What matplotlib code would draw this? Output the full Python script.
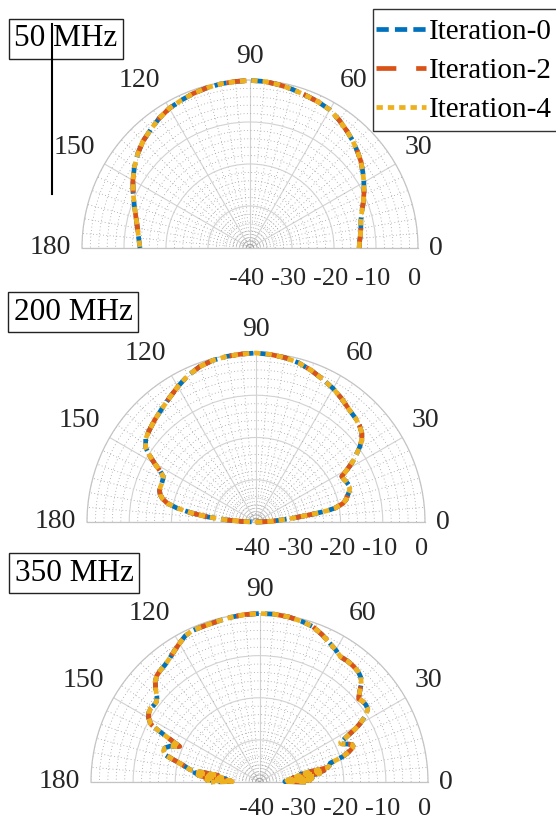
import numpy as np
import matplotlib
matplotlib.use('Agg')
import matplotlib.pyplot as plt
from matplotlib.ticker import MultipleLocator, FixedLocator
from matplotlib.lines import Line2D
from matplotlib.patches import Rectangle

plt.rcParams['font.family'] = ['Liberation Serif', 'DejaVu Serif']

W, H = 556, 821

# ---------------- data ----------------
freq_labels = ['50 MHz', '200 MHz', '350 MHz']
series_labels = ['Iteration-0', 'Iteration-2', 'Iteration-4']
series_colors = ['#0072BD', '#D95319', '#EDB120']
theta_ticks = [0, 30, 60, 90, 120, 150, 180]
r_ticks = [-40, -30, -20, -10, 0]

theta_50 = [0, 3, 6, 10, 14, 18, 22, 26, 30, 34, 38, 42, 46, 50, 55, 60, 65, 70, 75, 80,
            85, 90, 95, 100, 105, 110, 115, 120, 125, 130, 135, 140, 145, 150, 155, 160,
            165, 170, 175, 180]
gain_50_it0 = [-14.0, -13.9, -13.6, -13.2, -12.8, -12.0, -10.9, -9.8, -8.7, -7.6, -6.5, -5.6,
               -4.7, -3.9, -2.9, -2.0, -1.6, -1.3, -0.9, -0.5, -0.2, -0.1, -0.2, -0.3, -0.5,
               -0.8, -1.2, -1.6, -2.3, -3.2, -4.0, -5.1, -6.4, -7.8, -9.3, -10.7, -11.9,
               -12.8, -13.4, -13.8]
gain_50_it2 = gain_50_it0
gain_50_it4 = gain_50_it0

theta_200 = [0, 1, 2, 3, 4, 5, 6, 7, 8, 9, 10, 12, 14, 16, 18, 20, 22, 24, 26, 28, 30, 32, 34,
             36, 38, 40, 43, 46, 50, 55, 60, 65, 70, 75, 80, 85, 90, 95, 100, 105, 110, 115,
             120, 125, 130, 135, 140, 143, 146, 148, 150, 152, 154, 156, 158, 160, 162, 164,
             166, 168, 170, 172, 174, 176, 178, 180]
gain_200_it0 = [-40.0, -39.0, -37.5, -36.0, -35.0, -33.5, -31.0, -29.0, -26.0, -23.0, -21.0,
                -19.0, -18.0, -17.5, -16.8, -16.4, -16.4, -16.6, -16.9, -17.0, -15.0, -13.0,
                -11.3, -9.6, -8.2, -7.3, -6.5, -6.0, -5.5, -4.5, -3.5, -2.7, -1.8, -1.0, -0.5,
                -0.2, 0.0, -0.1, -0.2, -0.4, -0.9, -1.8, -3.0, -4.2, -5.2, -6.0, -6.8, -7.3,
                -8.5, -10.3, -12.3, -14.3, -15.6, -15.8, -15.9, -15.9, -16.0, -16.4, -17.2,
                -18.5, -21.0, -24.5, -28.5, -33.0, -37.0, -40.0]
gain_200_it2 = gain_200_it0
gain_200_it4 = gain_200_it0

theta_350 = [0, 1, 2, 3, 4, 5, 6, 7, 8, 9, 10, 11, 12, 13, 14, 15, 16, 17, 18, 19, 20, 21, 22,
             23, 24, 25, 26, 27, 28, 29, 30, 32, 34, 36, 38, 40, 42, 44, 46, 48, 51, 54, 57,
             60, 63, 67, 71, 75, 80, 85, 90, 95, 100, 105, 110, 114, 117, 120, 123, 126, 129,
             132, 134, 136, 138, 140, 142, 144, 146, 148, 150, 152, 153, 154, 155, 156, 157,
             158, 160, 162, 164, 166, 168, 170, 171, 172, 173, 174, 175, 176, 177, 178, 179,
             180]
gain_350_it0 = [-29.0, -34.0, -28.0, -33.5, -27.5, -33.0, -26.5, -32.0, -25.5, -31.0, -24.5,
                -30.0, -23.5, -23.0, -22.8, -22.6, -21.0, -19.3, -18.3, -17.3, -16.6, -16.2,
                -16.3, -17.0, -17.8, -18.6, -18.6, -17.3, -15.8, -14.0, -12.6, -10.3, -9.0,
                -8.8, -8.9, -9.3, -8.0, -6.4, -5.4, -4.9, -4.6, -4.5, -4.6, -3.8, -3.1, -2.0,
                -1.0, -0.6, -0.2, 0.0, 0.0, -0.1, -0.3, -0.6, -0.7, -0.7, -1.1, -2.0, -2.9,
                -3.7, -4.3, -4.6, -4.9, -5.6, -6.8, -8.2, -9.0, -9.0, -8.8, -9.0, -9.6, -10.8,
                -13.0, -15.5, -17.5, -19.3, -18.5, -17.2, -16.2, -16.0, -16.7, -19.6, -21.8,
                -23.3, -30.0, -24.5, -31.0, -25.5, -32.0, -26.5, -33.0, -27.5, -33.5, -28.5]
gain_350_it2 = gain_350_it0
gain_350_it4 = gain_350_it0

panels = [
    (freq_labels[0], theta_50, [gain_50_it0, gain_50_it2, gain_50_it4]),
    (freq_labels[1], theta_200, [gain_200_it0, gain_200_it2, gain_200_it4]),
    (freq_labels[2], theta_350, [gain_350_it0, gain_350_it2, gain_350_it4]),
]

# ---------------- layout (pixels) ----------------
centers = [(250, 248), (256, 522), (259.5, 782)]
radii = [168, 169, 168.5]
rlabel_drop = [31, 27, 27]
title_pos = [(66, 39), (73, 312), (74, 573)]

LW = 3.4
dash_styles = [(0, (2.6, 1.3)), (0, (4.2, 4.2)), (0, (1.35, 1.05))]

fig = plt.figure(figsize=(W / 100, H / 100), dpi=100)
PX = 72 / 100.0  # points per pixel

handles = []
for i, (flabel, theta, gains) in enumerate(panels):
    cx, cy = centers[i]
    R = radii[i]
    # square box; the half-disc is centred vertically inside it
    rect = [(cx - R) / W, 1 - (cy + R / 2) / H, 2 * R / W, 2 * R / H]
    ax = fig.add_axes(rect, projection='polar')
    ax.set_thetamin(0)
    ax.set_thetamax(180)
    ax.set_rlim(r_ticks[0], r_ticks[-1])
    ax.set_xticks(np.deg2rad(theta_ticks))
    ax.set_xticklabels([])
    ax.set_yticks(r_ticks[1:-1])
    ax.set_yticklabels([])
    ax.xaxis.set_minor_locator(FixedLocator(np.deg2rad(np.arange(0, 181, 5))))
    ax.yaxis.set_minor_locator(MultipleLocator(2))
    ax.grid(which='major', color='#d2d2d2', lw=0.8, ls='-')
    ax.grid(which='minor', color='#a0a0a0', lw=0.6, ls=(0, (1, 3)))
    ax.tick_params(which='both', length=0)
    ax.patch.set_alpha(0)
    for s in ax.spines.values():
        s.set_color('#c4c4c4')
        s.set_linewidth(0.9)

    th = np.deg2rad(theta)
    for k in range(3):
        ln, = ax.plot(th, gains[k], color=series_colors[k], lw=LW,
                      linestyle=dash_styles[k], clip_on=False, zorder=3 + k)
        if i == 0:
            handles.append(ln)

    # angle labels
    for t in theta_ticks:
        a = np.deg2rad(t)
        c, s = np.cos(a), np.sin(a)
        if c > 0.1:
            ha = 'left'
        elif c < -0.1:
            ha = 'right'
        else:
            ha = 'center'
        dx = 11 * c
        dy = 24 * np.sqrt(max(s, 0))
        ax.annotate(str(t), xy=(a, r_ticks[-1]), xycoords='data',
                    xytext=(dx * PX, dy * PX), textcoords='offset points',
                    ha=ha, va='center', fontsize=20, color='#262626',
                    annotation_clip=False)
    # radial labels
    for r in r_ticks:
        ax.annotate(str(r), xy=(0, r), xycoords='data',
                    xytext=(-3 * PX, -rlabel_drop[i] * PX), textcoords='offset points',
                    ha='center', va='center', fontsize=19, color='#262626',
                    annotation_clip=False)

    tx, ty = title_pos[i]
    fig.text(tx / W, 1 - ty / H, flabel, fontsize=22.5, ha='center', va='center',
             color='black',
             bbox=dict(boxstyle='square,pad=0.18', fc='white', ec='#222222', lw=1.0),
             zorder=10)

# legend: frame drawn separately so the rows can be placed freely
fig.add_artist(Rectangle((373 / W, 1 - 131 / H), 190 / W, 122 / H,
                         transform=fig.transFigure, fc='white', ec='#333333',
                         lw=1.0, zorder=8))
leg = fig.legend(handles, series_labels, loc='upper left',
                 bbox_to_anchor=(376 / W, 1 - 19 / H), fontsize=21,
                 handlelength=1.72, handletextpad=0.1, labelspacing=0.42,
                 borderpad=0, borderaxespad=0, frameon=False)
leg.set_zorder(9)

fig.add_artist(Line2D([52 / W, 52 / W], [1 - 24 / H, 1 - 194 / H], color='black',
                      lw=1.5, zorder=20))

fig.savefig('out.png', dpi=100)
